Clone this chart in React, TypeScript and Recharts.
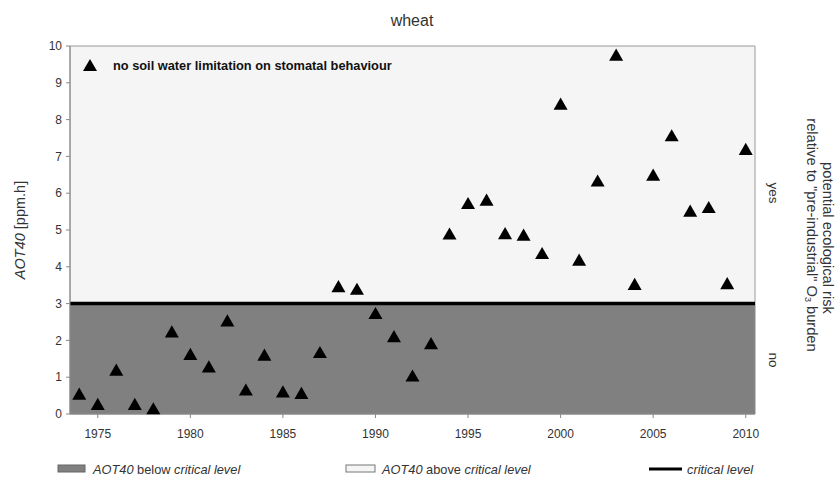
import {
  ComposedChart,
  Scatter,
  XAxis,
  YAxis,
  ZAxis,
  ReferenceArea,
  ReferenceLine,
  Legend,
} from 'recharts';

const years = [
  1974, 1975, 1976, 1977, 1978, 1979, 1980, 1981, 1982, 1983, 1984, 1985, 1986,
  1987, 1988, 1989, 1990, 1991, 1992, 1993, 1994, 1995, 1996, 1997, 1998, 1999,
  2000, 2001, 2002, 2003, 2004, 2005, 2006, 2007, 2008, 2009, 2010,
];

const aot40 = [
  0.5, 0.22, 1.15, 0.22, 0.1, 2.19, 1.58, 1.24, 2.49, 0.61, 1.56, 0.56, 0.52,
  1.63, 3.42, 3.35, 2.69, 2.06, 0.99, 1.87, 4.85, 5.68, 5.77, 4.86, 4.82, 4.32,
  8.38, 4.14, 6.29, 9.71, 3.48, 6.45, 7.52, 5.47, 5.57, 3.5, 7.15,
];

const xTicks = [1975, 1980, 1985, 1990, 1995, 2000, 2005, 2010];
const yTicks = [0, 1, 2, 3, 4, 5, 6, 7, 8, 9, 10];
const criticalLevel = 3;
const seriesName = 'no soil water limitation on stomatal behaviour';

const data = years.map((year, i) => ({ year, value: aot40[i] }));

const FONT = '"Liberation Sans", Arial, sans-serif';
const TEXT = '#333';

const InnerLegend = () => (
  <div style={{ display: 'flex', alignItems: 'center', fontFamily: FONT }}>
    <svg width={14} height={13} style={{ marginRight: 16 }}>
      <polygon points="7,0 14,12 0,12" fill="#000" />
    </svg>
    <span style={{ fontSize: 12.8, fontWeight: 'bold', color: '#111' }}>{seriesName}</span>
  </div>
);

const App = () => {
  return (
    <div style={{ position: 'absolute', left: 0, top: 0, width: 835, height: 477, background: '#fff' }}>
      <ComposedChart
        width={835}
        height={477}
        data={data}
        margin={{ top: 46, right: 80, bottom: 33, left: 0 }}
      >
        <ReferenceArea y1={0} y2={criticalLevel} fill="#808080" fillOpacity={1} stroke="#8a8a8a" />
        <ReferenceArea y1={criticalLevel} y2={10} fill="#f5f5f5" fillOpacity={1} stroke="#9a9a9a" />
        <ReferenceLine y={criticalLevel} stroke="#000" strokeWidth={3.5} />
        <XAxis
          type="number"
          dataKey="year"
          domain={[1973.5, 2010.5]}
          ticks={xTicks}
          height={30}
          tickSize={4}
          tickMargin={11}
          stroke="#888"
          tick={{ fill: TEXT, fontSize: 12, fontFamily: FONT }}
        />
        <YAxis
          type="number"
          dataKey="value"
          domain={[0, 10]}
          ticks={yTicks}
          width={70}
          tickSize={4}
          tickMargin={4}
          stroke="#888"
          tick={{ fill: TEXT, fontSize: 12, fontFamily: FONT }}
        />
        <ZAxis range={[85, 85]} />
        <Legend
          layout="horizontal"
          verticalAlign="middle"
          align="center"
          content={InnerLegend}
          wrapperStyle={{ position: 'absolute', left: 83, top: 58, width: 'auto' }}
        />
        <Scatter
          name={seriesName}
          dataKey="value"
          fill="#000"
          shape="triangle"
          isAnimationActive={false}
        />
      </ComposedChart>
      <svg
        width={835}
        height={477}
        style={{ position: 'absolute', left: 0, top: 0, pointerEvents: 'none' }}
        fontFamily={FONT}
      >
        <text x={412} y={20} textAnchor="middle" dominantBaseline="central" fontSize={16} fill={TEXT}>
          wheat
        </text>
        <text
          transform="translate(20,230) rotate(-90)"
          textAnchor="middle"
          dominantBaseline="central"
          fontSize={14.5}
          fill={TEXT}
        >
          <tspan fontStyle="italic">AOT40</tspan> [ppm.h]
        </text>
        <text transform="translate(773,193) rotate(90)" textAnchor="middle" dominantBaseline="central" fontSize={13.5} fill={TEXT}>
          yes
        </text>
        <text transform="translate(773,360) rotate(90)" textAnchor="middle" dominantBaseline="central" fontSize={13.5} fill={TEXT}>
          no
        </text>
        <text transform="translate(828,238) rotate(90)" textAnchor="middle" dominantBaseline="central" fontSize={14.7} fill={TEXT}>
          potential ecological risk
        </text>
        <text transform="translate(812,235) rotate(90)" textAnchor="middle" dominantBaseline="central" fontSize={14.7} fill={TEXT}>
          relative to "pre-industrial" O<tspan fontSize={9} dy={4}>3</tspan>
          <tspan dy={-4}> burden</tspan>
        </text>

        <rect x={58} y={465} width={27} height={7} fill="#808080" stroke="#666" />
        <text x={93} y={469} dominantBaseline="central" fontSize={12.8} fill={TEXT}>
          <tspan fontStyle="italic">AOT40</tspan> below <tspan fontStyle="italic">critical level</tspan>
        </text>
        <rect x={346} y={465} width={29} height={7} fill="#f5f5f5" stroke="#777" />
        <text x={382} y={469} dominantBaseline="central" fontSize={12.8} fill={TEXT}>
          <tspan fontStyle="italic">AOT40</tspan> above <tspan fontStyle="italic">critical level</tspan>
        </text>
        <line x1={649} y1={469} x2={682} y2={469} stroke="#000" strokeWidth={3} />
        <text x={687} y={469} dominantBaseline="central" fontSize={12.8} fill={TEXT} fontStyle="italic">
          critical level
        </text>
      </svg>
    </div>
  );
};

export default App;
